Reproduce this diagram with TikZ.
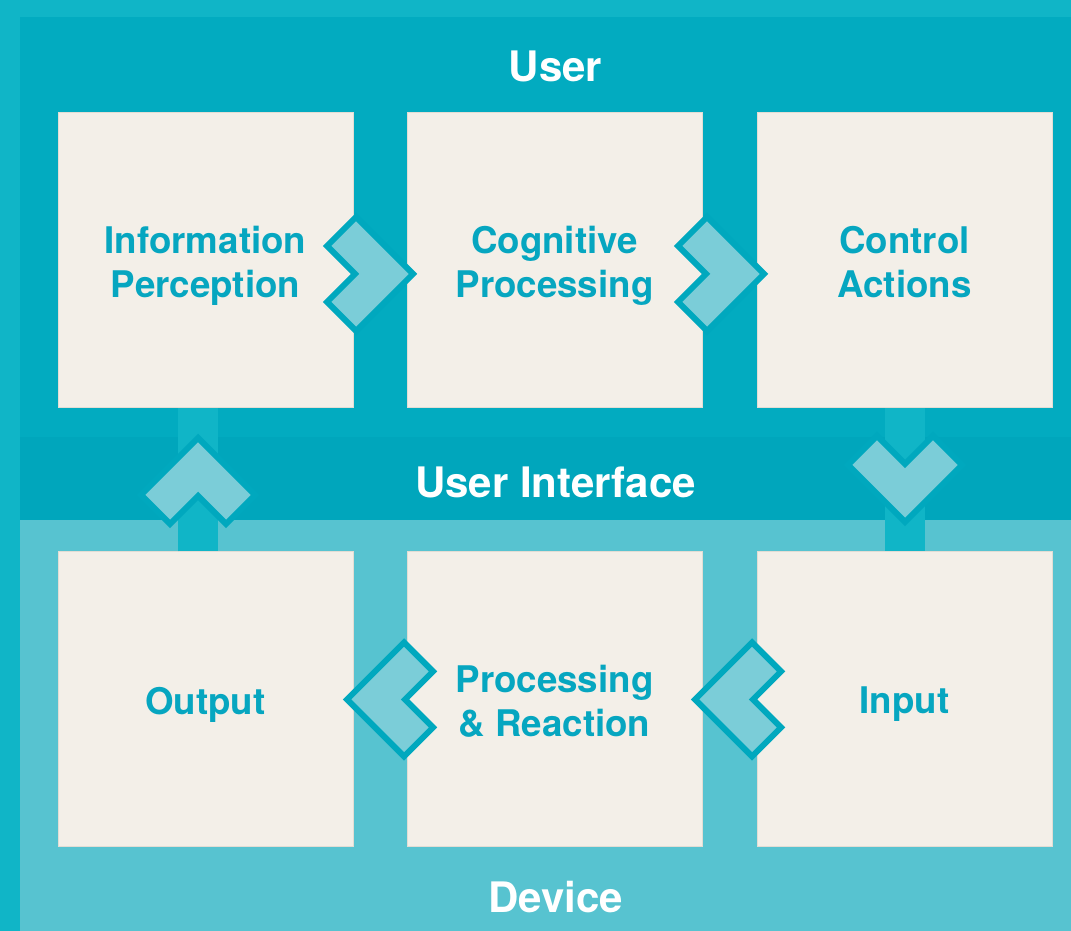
\documentclass[tikz,border=0pt]{standalone}
\usepackage{fontspec}
\setmainfont{TeX Gyre Heros}
\usetikzlibrary{calc}

\definecolor{outerbg}{HTML}{10B5C7}
\definecolor{userbg}{HTML}{02ABC0}
\definecolor{uibg}{HTML}{00A6BC}
\definecolor{devbg}{HTML}{57C3D0}
\definecolor{boxfill}{HTML}{F3EFE8}
\definecolor{boxedge}{HTML}{E2DDD4}
\definecolor{barcol}{HTML}{10B5C7}
\definecolor{chevfill}{HTML}{7BCDD8}
\definecolor{chevedge}{HTML}{00A8BE}
\definecolor{stagetextcol}{HTML}{06A6C0}

\begin{document}
\begin{tikzpicture}[x=1pt,y=1pt,
  stagebox/.style={draw=boxedge, line width=1pt, fill=boxfill,
    minimum width=295pt, minimum height=295pt, inner sep=0pt},
  stagetext/.style={text=stagetextcol, font=\fontsize{36.7}{44}\selectfont\bfseries,
    align=center, inner sep=0pt},
  layertitle/.style={text=white, font=\fontsize{42}{50}\selectfont\bfseries, inner sep=0pt},
  linkbar/.style={draw=barcol, line width=40pt},
  chevron/.pic={
    \filldraw[fill=chevfill, draw=chevedge, line width=6pt, line join=miter]
      (0,0) -- (-57,57) -- (-86,28) -- (-58,0) -- (-86,-28) -- (-57,-57) -- cycle;}
]
% layer backgrounds
\fill[outerbg] (0,0) rectangle (1071,931);
\fill[userbg] (20,411) rectangle (1071,914);
\fill[uibg] (20,411) rectangle (1071,494);
\fill[devbg] (20,0) rectangle (1071,411);
\useasboundingbox (0,0) rectangle (1071,931);

% layer titles
\node[layertitle] (tuser) at (555.5,865) {User};
\node[layertitle] (tui) at (555.5,449) {User Interface};
\node[layertitle] (tdev) at (555.5,34) {Device};

% stages
\node[stagebox] (b1) at (205.5,670.5) {};
\node[stagebox] (b2) at (554.5,670.5) {};
\node[stagebox] (b3) at (904.5,670.5) {};
\node[stagebox] (b4) at (205.5,231.5) {};
\node[stagebox] (b5) at (554.5,231.5) {};
\node[stagebox] (b6) at (904.5,231.5) {};

\node[stagetext] (l1) at ([yshift=-5pt]b1.center) {Information\\Perception};
\node[stagetext] (l2) at ([yshift=-5pt]b2.center) {Cognitive\\Processing};
\node[stagetext] (l3) at ([yshift=-5pt]b3.center) {Control\\Actions\vphantom{p}};
\node[stagetext] (l4) at ([yshift=-5pt]b4.center) {Output};
\node[stagetext] (l5) at ([yshift=-5pt]b5.center) {Processing\\\&~Reaction\vphantom{p}};
\node[stagetext] (l6) at ([yshift=-5pt]b6.center) {Input};

% links through the user interface
\draw[linkbar] ([xshift=-7.5pt]b4.north) -- ([xshift=-7.5pt]b1.south);
\draw[linkbar] ([xshift=0.5pt]b3.south) -- ([xshift=0.5pt]b6.north);

% flow chevrons
\pic at ($(b1.east)!0.5!(b2.west)+(33,-13.5)$) {chevron};
\pic at ($(b2.east)!0.5!(b3.west)+(34.5,-13.5)$) {chevron};
\pic[rotate=-90] at ($(b3.south)!0.5!(b6.north)+(0.5,-42)$) {chevron};
\pic[rotate=180] at ($(b5.east)!0.5!(b6.west)+(-34.5,0)$) {chevron};
\pic[rotate=180] at ($(b4.east)!0.5!(b5.west)+(-33,0)$) {chevron};
\pic[rotate=90] at ($(b1.south)!0.5!(b4.north)+(-7.5,42)$) {chevron};
\end{tikzpicture}
\end{document}
